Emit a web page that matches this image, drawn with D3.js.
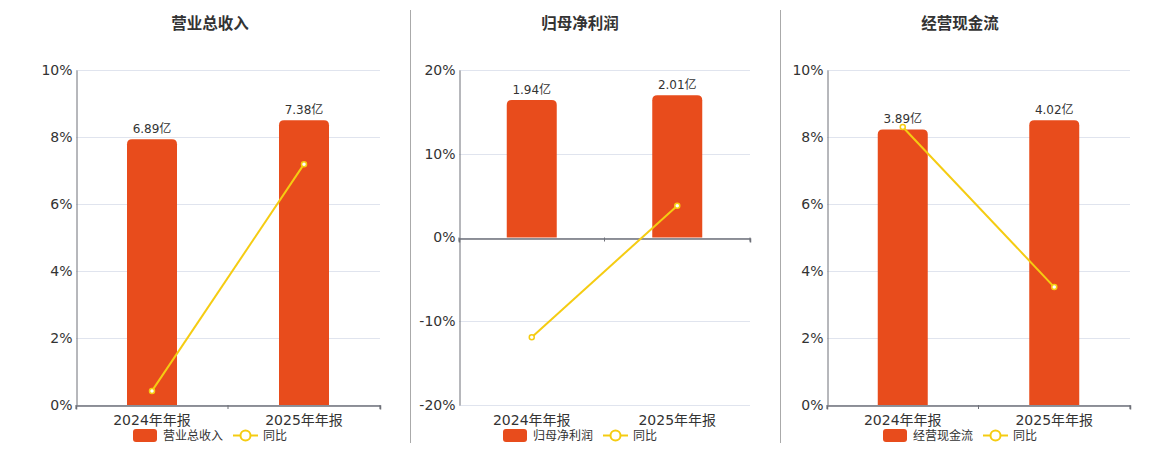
<!DOCTYPE html>
<html><head><meta charset="utf-8">
<script src="https://cdn.jsdelivr.net/npm/d3@7"></script>
<style>
body{margin:0;background:#fff;}
text{font-family:"DejaVu Sans","Noto Sans CJK SC",sans-serif;}
</style></head>
<body><svg id="c" width="1160" height="450"></svg>
<script>
const categories = ["2024年年报","2025年年报"];
const titles = ["营业总收入","归母净利润","经营现金流"];
const barValues = [[6.89,7.38],[1.94,2.01],[3.89,4.02]];
const barLabels = [["6.89亿","7.38亿"],["1.94亿","2.01亿"],["3.89亿","4.02亿"]];
const yoyValues = [[0.42,7.19],[-11.9,3.8],[8.3,3.52]];
const pctDomains = [[0,10],[-20,20],[0,10]];
const pctTicks = [[0,2,4,6,8,10],[-20,-10,0,10,20],[0,2,4,6,8,10]];
const lineName = "同比";

const panels = [
  {x0:76, x1:380, cx:210},
  {x0:459, x1:750, cx:580},
  {x0:827, x1:1130, cx:960}
];
const plotTop = 70, plotBottom = 405;
const barColor = "#E84C1C", lineColor = "#F5CC12", axisColor = "#6e7079";
const svg = d3.select("#c");

// dividers
[410.5, 780.5].forEach(x=>{
  svg.append("line").attr("x1",x).attr("x2",x).attr("y1",10).attr("y2",443)
    .attr("stroke","#aaa").attr("stroke-width",1);
});

panels.forEach((p,i)=>{
  const g = svg.append("g");
  const y = d3.scaleLinear().domain(pctDomains[i]).range([plotBottom, plotTop]);
  const zeroY = y(0);
  const maxB = d3.max(barValues[i]);
  const yb = d3.scaleLinear().domain([0, maxB/0.85]).range([zeroY, plotTop]);
  const x = d3.scaleBand().domain(categories).range([p.x0, p.x1]);

  // title
  g.append("text").attr("x",p.cx).attr("y",29).attr("text-anchor","middle")
    .attr("font-size",15.5).attr("font-weight","bold").attr("fill","#333").text(titles[i]);

  // grid
  g.selectAll(".grid").data(pctTicks[i]).enter().append("line")
    .attr("x1",p.x0).attr("x2",p.x1).attr("y1",d=>Math.round(y(d))+0.5).attr("y2",d=>Math.round(y(d))+0.5)
    .attr("stroke","#e0e4ee").attr("stroke-width",1);

  // y axis
  const ya = g.append("g").attr("transform",`translate(${p.x0+0.5},0)`)
    .call(d3.axisLeft(y).tickValues(pctTicks[i]).tickFormat(d=>d+"%").tickSize(0).tickPadding(4));
  ya.select(".domain").attr("stroke",axisColor);
  ya.selectAll(".tick line").remove();
  ya.selectAll("text").attr("font-size",14).attr("fill","#333")
    .attr("font-family",'"DejaVu Sans",sans-serif');

  // bars with rounded tops
  const r = 5;
  g.selectAll(".bar").data(barValues[i]).enter().append("path")
    .attr("fill",barColor)
    .attr("d",(d,j)=>{
      const bw = 50;
      const cx = x(categories[j]) + x.bandwidth()/2;
      const x0 = cx - bw/2, x1 = cx + bw/2;
      const yt = yb(d), yb0 = zeroY;
      return `M${x0},${yb0}L${x0},${yt+r}Q${x0},${yt} ${x0+r},${yt}L${x1-r},${yt}Q${x1},${yt} ${x1},${yt+r}L${x1},${yb0}Z`;
    });

  // bar labels
  g.selectAll(".bl").data(barValues[i]).enter().append("text")
    .attr("x",(d,j)=>x(categories[j])+x.bandwidth()/2)
    .attr("y",d=>yb(d)-6).attr("text-anchor","middle")
    .attr("font-size",12).attr("fill","#333").text((d,j)=>barLabels[i][j]);

  // x axis at zero
  const xa = g.append("g").attr("transform",`translate(0,${Math.round(zeroY)+0.5})`)
    .call(d3.axisBottom(x).tickSize(4).tickFormat(""));
  xa.select(".domain").attr("stroke",axisColor).attr("stroke-width",1.5);
  xa.selectAll(".tick").remove();
  const edges = [p.x0, (p.x0+p.x1)/2, p.x1];
  g.selectAll(".xt").data(edges).enter().append("line")
    .attr("x1",d=>d).attr("x2",d=>d).attr("y1",zeroY).attr("y2",zeroY+4)
    .attr("stroke",axisColor);

  // x labels at bottom
  g.selectAll(".xl").data(categories).enter().append("text")
    .attr("x",d=>x(d)+x.bandwidth()/2).attr("y",425).attr("text-anchor","middle")
    .attr("font-size",14).attr("fill","#333").text(d=>d);

  // line
  const line = d3.line().x((d,j)=>x(categories[j])+x.bandwidth()/2).y(d=>y(d));
  g.append("path").datum(yoyValues[i]).attr("d",line).attr("fill","none")
    .attr("stroke",lineColor).attr("stroke-width",2);
  g.selectAll(".pt").data(yoyValues[i]).enter().append("circle")
    .attr("cx",(d,j)=>x(categories[j])+x.bandwidth()/2).attr("cy",d=>y(d)).attr("r",2.5)
    .attr("fill","#fff").attr("stroke",lineColor).attr("stroke-width",1.5);

  // legend
  const lg = g.append("g").attr("transform",`translate(${p.cx-77},0)`);
  lg.append("rect").attr("x",0).attr("y",429).attr("width",24).attr("height",13).attr("rx",3)
    .attr("fill",barColor);
  lg.append("text").attr("x",30).attr("y",440).attr("font-size",12).attr("fill","#333").text(titles[i]);
  lg.append("line").attr("x1",100).attr("x2",125).attr("y1",435.5).attr("y2",435.5)
    .attr("stroke",lineColor).attr("stroke-width",2);
  lg.append("circle").attr("cx",112.5).attr("cy",435.5).attr("r",5)
    .attr("fill","#fff").attr("stroke",lineColor).attr("stroke-width",2);
  lg.append("text").attr("x",130).attr("y",440).attr("font-size",12).attr("fill","#333").text(lineName);
});
</script></body></html>
